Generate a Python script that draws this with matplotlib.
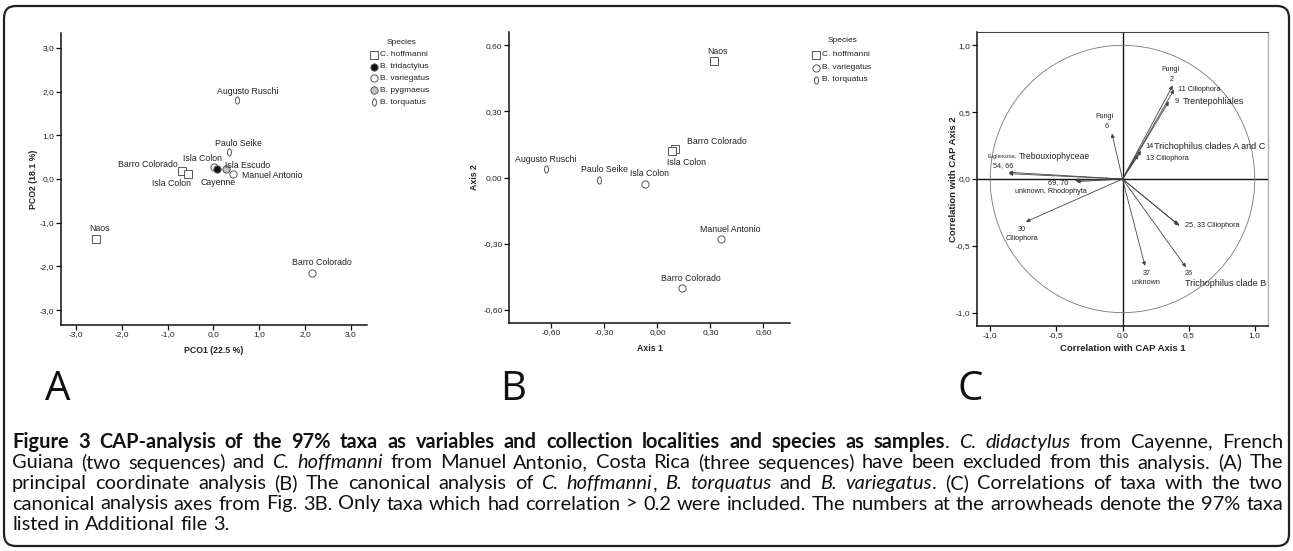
import matplotlib
matplotlib.use('Agg')
import matplotlib.pyplot as plt
from matplotlib.path import Path
import matplotlib.patches as mpatches
import matplotlib.ticker as mticker
import numpy as np

# ---------------- data ----------------
# Panel A: principal coordinate analysis
A_hoff_x = [-0.68, -0.56, -2.57]
A_hoff_y = [0.19, 0.11, -1.37]
A_trid_x = [0.08]
A_trid_y = [0.23]
A_var_x = [0.02, 0.42, 2.15]
A_var_y = [0.27, 0.12, -2.15]
A_pyg_x = [0.27]
A_pyg_y = [0.24]
A_torq_x = [0.52, 0.33]
A_torq_y = [1.81, 0.62]
A_labels = ["Augusto Ruschi", "Paulo Seike", "Isla Colon", "Isla Escudo", "Manuel Antonio",
            "Cayenne", "Barro Colorado", "Isla Colon", "Naos", "Barro Colorado"]
A_label_x = [0.74, 0.54, -0.24, 0.74, 1.28, 0.11, -1.43, -0.91, -2.48, 2.37]
A_label_y = [2.01, 0.82, 0.48, 0.32, 0.07, -0.07, 0.34, -0.11, -1.14, -1.92]
A_ticks = [-3.0, -2.0, -1.0, 0.0, 1.0, 2.0, 3.0]
A_xlabel = "PCO1 (22.5 %)"
A_ylabel = "PCO2 (18.1 %)"
A_legend = ["C. hoffmanni", "B. tridactylus", "B. variegatus", "B. pygmaeus", "B. torquatus"]

# Panel B: canonical analysis
B_hoff_x = [0.32, 0.10, 0.08]
B_hoff_y = [0.53, 0.13, 0.12]
B_var_x = [-0.07, 0.36, 0.14]
B_var_y = [-0.03, -0.28, -0.50]
B_torq_x = [-0.63, -0.33]
B_torq_y = [0.04, -0.01]
B_labels = ["Naos", "Barro Colorado", "Isla Colon", "Augusto Ruschi", "Paulo Seike",
            "Isla Colon", "Manuel Antonio", "Barro Colorado"]
B_label_x = [0.34, 0.165, 0.164, -0.63, -0.30, -0.045, 0.41, 0.19]
B_label_y = [0.57, 0.164, 0.068, 0.082, 0.036, 0.018, -0.236, -0.46]
B_label_ha = ["center", "left", "center", "center", "center", "center", "center", "center"]
B_ticks = [-0.60, -0.30, 0.00, 0.30, 0.60]
B_legend = ["C. hoffmanni", "B. variegatus", "B. torquatus"]

# Panel C: correlations of taxa with CAP axes (arrow tips)
C_taxa = ["2", "11", "9", "6", "14", "13", "54", "66", "69", "70", "30", "25", "33", "37", "26"]
C_x = [0.38, 0.39, 0.35, -0.08, 0.14, 0.12, -0.86, -0.86, -0.36, -0.35, -0.73, 0.43, 0.42, 0.17, 0.48]
C_y = [0.70, 0.67, 0.58, 0.34, 0.21, 0.18, 0.05, 0.04, -0.01, -0.02, -0.32, -0.35, -0.34, -0.65, -0.66]
C_ticks = [-1.0, -0.5, 0.0, 0.5, 1.0]
C_text = ["Fungi", "2", "11 Ciliophora", "9", "Trentepohliales", "Fungi", "6", "14",
          "Trichophilus clades A and C", "13 Ciliophora", "Euglenozoa,", "Trebouxiophyceae",
          "54, 66", "69, 70", "unknown, Rhodophyta", "30", "Ciliophora", "25, 33 Ciliophora",
          "37", "unknown", "26", "Trichophilus clade B"]
C_text_x = [0.36, 0.375, 0.417, 0.394, 0.455, -0.136, -0.12, 0.174, 0.24, 0.174, -1.02, -0.785,
            -0.90, -0.49, -0.545, -0.76, -0.76, 0.47, 0.18, 0.18, 0.47, 0.47]
C_text_y = [0.82, 0.745, 0.67, 0.58, 0.58, 0.466, 0.39, 0.243, 0.243, 0.15, 0.168, 0.168,
            0.10, -0.03, -0.095, -0.376, -0.444, -0.35, -0.707, -0.774, -0.707, -0.78]
C_text_size = [5.2, 5.2, 5.2, 5.2, 6.5, 5.2, 5.2, 5.2, 6.5, 5.2, 3.7, 6.2,
               5.2, 5.2, 5.2, 5.2, 5.2, 5.2, 5.2, 5.2, 5.2, 6.5]
C_text_ha = ["center", "center", "left", "left", "left", "center", "center", "left", "left", "left",
             "left", "left", "center", "center", "center", "center", "center", "left",
             "center", "center", "left", "left"]

# ---------------- styling ----------------
W, H = 1293, 551
FONT = "Liberation Sans"
plt.rcParams['font.family'] = [FONT, 'DejaVu Sans']
EC = '#555555'
TXT = '#222222'

circ = Path.unit_circle()
ELLIPSE = Path(circ.vertices * np.array([0.55, 1.0]), circ.codes)

fig = plt.figure(figsize=(W / 100, H / 100), dpi=100)


def px_axes(l, t, r, b):
    return fig.add_axes([l / W, 1 - b / H, (r - l) / W, (b - t) / H])


def fmt(nd):
    def f(v, p):
        if abs(v) < 1e-9:
            v = 0.0
        return f"{v:.{nd}f}".replace('.', ',')
    return mticker.FuncFormatter(f)


def style_axes(ax, ticks, nd):
    for s in ['top', 'right']:
        ax.spines[s].set_visible(False)
    for s in ['left', 'bottom']:
        ax.spines[s].set_linewidth(1.1)
        ax.spines[s].set_color('#111111')
    ax.set_xticks(ticks)
    ax.set_yticks(ticks)
    ax.xaxis.set_major_formatter(fmt(nd))
    ax.yaxis.set_major_formatter(fmt(nd))
    ax.tick_params(direction='out', length=3.5, width=0.9, pad=1.2, labelsize=6, colors='#111111',
                   labelcolor=TXT)


ms = 5.2
mk = dict(linestyle='none', markeredgecolor=EC, markeredgewidth=0.7, markersize=ms)

# ---------------- Panel A ----------------
axA = px_axes(60.7, 33, 367, 325)
axA.set_xlim(-3.33, 3.35)
axA.set_ylim(-3.34, 3.34)
style_axes(axA, A_ticks, 1)
axA.plot(A_hoff_x, A_hoff_y, marker='s', markerfacecolor='white', **mk)
axA.plot(A_var_x, A_var_y, marker='o', markerfacecolor='white', **mk)
axA.plot(A_trid_x, A_trid_y, marker='o', markerfacecolor='#111111', **mk)
axA.plot(A_pyg_x, A_pyg_y, marker='o', markerfacecolor='#c4c4c4', **mk)
axA.plot(A_torq_x, A_torq_y, marker=ELLIPSE, markerfacecolor='white', **mk)
for t, x, y in zip(A_labels, A_label_x, A_label_y):
    axA.text(x, y, t, fontsize=6.3, ha='center', va='center', color=TXT)
axA.text(0.5, -0.089, A_xlabel, transform=axA.transAxes, ha='center', va='center',
         fontsize=6.3, fontweight='bold', color=TXT)
axA.text(-0.09, 0.5, A_ylabel, transform=axA.transAxes, ha='center', va='center',
         rotation=90, fontsize=6.3, fontweight='bold', color=TXT)

# ---------------- Panel B ----------------
axB = px_axes(509, 32, 790, 323)
axB.set_xlim(-0.84, 0.75)
axB.set_ylim(-0.66, 0.66)
style_axes(axB, B_ticks, 2)
axB.plot(B_hoff_x, B_hoff_y, marker='s', markerfacecolor='white', **mk)
axB.plot(B_var_x, B_var_y, marker='o', markerfacecolor='white', **mk)
axB.plot(B_torq_x, B_torq_y, marker=ELLIPSE, markerfacecolor='white', **mk)
for t, x, y, ha in zip(B_labels, B_label_x, B_label_y, B_label_ha):
    axB.text(x, y, t, fontsize=6.3, ha=ha, va='center', color=TXT)
axB.text(0.5, -0.089, "Axis 1", transform=axB.transAxes, ha='center', va='center',
         fontsize=6.3, fontweight='bold', color=TXT)
axB.text(-0.121, 0.5, "Axis 2", transform=axB.transAxes, ha='center', va='center',
         rotation=90, fontsize=6.3, fontweight='bold', color=TXT)

# ---------------- Panel C ----------------
axC = px_axes(977, 32, 1268, 326)
axC.set_xlim(-1.1, 1.1)
axC.set_ylim(-1.1, 1.1)
style_axes(axC, C_ticks, 1)
axC.spines['top'].set_visible(True)
axC.spines['top'].set_color('#444444')
axC.spines['top'].set_linewidth(0.8)
axC.spines['right'].set_visible(True)
axC.spines['right'].set_color('#b0b0b0')
axC.spines['right'].set_linewidth(1.0)
axC.axhline(0, color='#111111', lw=1.0, zorder=1)
axC.axvline(0, color='#111111', lw=1.0, zorder=1)
th = np.linspace(0, 2 * np.pi, 400)
axC.plot(np.cos(th), np.sin(th), color='#777777', lw=0.6, zorder=1)
for x, y in zip(C_x, C_y):
    axC.annotate("", xy=(x, y), xytext=(0, 0),
                 arrowprops=dict(arrowstyle='-|>', lw=0.6, color='#444444',
                                 mutation_scale=5.5, shrinkA=0, shrinkB=0), zorder=2)
for t, x, y, sz, ha in zip(C_text, C_text_x, C_text_y, C_text_size, C_text_ha):
    axC.text(x, y, t, fontsize=sz, ha=ha, va='center', color=TXT, zorder=3)
axC.text(0.5, -0.078, "Correlation with CAP Axis 1", transform=axC.transAxes, ha='center',
         va='center', fontsize=6.8, fontweight='bold', color=TXT)
axC.text(-0.082, 0.5, "Correlation with CAP Axis 2", transform=axC.transAxes, ha='center',
         va='center', rotation=90, fontsize=6.8, fontweight='bold', color=TXT)

# ---------------- overlay (legends, letters, caption, frame) ----------------
ov = fig.add_axes([0, 0, 1, 1], zorder=10)
ov.set_xlim(0, W)
ov.set_ylim(H, 0)
ov.axis('off')
ov.patch.set_alpha(0)

leg_styles_A = [('s', 'white'), ('o', '#111111'), ('o', 'white'), ('o', '#c4c4c4'), (ELLIPSE, 'white')]
ov.text(402, 42, "Species", fontsize=6, ha='center', va='center', color=TXT)
for (m, fc), name, yy in zip(leg_styles_A, A_legend, [55, 67, 78, 90, 102]):
    ov.plot([374], [yy], marker=m, markerfacecolor=fc, **mk)
    ov.text(379.5, yy, name, fontsize=6, ha='left', va='center', color=TXT)

leg_styles_B = [('s', 'white'), ('o', 'white'), (ELLIPSE, 'white')]
ov.text(843, 41, "Species", fontsize=6, ha='center', va='center', color=TXT)
for (m, fc), name, yy in zip(leg_styles_B, B_legend, [54.5, 67.5, 79.5]):
    ov.plot([816], [yy], marker=m, markerfacecolor=fc, **mk)
    ov.text(821.5, yy, name, fontsize=6, ha='left', va='center', color=TXT)

LETF = ['Open Sans', 'DejaVu Sans']
for letter, xx in zip("ABC", [58, 513, 970]):
    ov.text(xx, 400, letter, fontsize=29, family=LETF, ha='center', va='baseline',
            color='#111111')

# caption
CAPF = ['Lato', 'DejaVu Sans']
caption_lines = [
    [[("Figure", 'b')], [("3", 'b')], [("CAP-analysis", 'b')], [("of", 'b')], [("the", 'b')],
     [("97%", 'b')], [("taxa", 'b')], [("as", 'b')], [("variables", 'b')], [("and", 'b')],
     [("collection", 'b')], [("localities", 'b')], [("and", 'b')], [("species", 'b')],
     [("as", 'b')], [("samples", 'b'), (".", 'n')], [("C.", 'i')], [("didactylus", 'i')],
     [("from", 'n')], [("Cayenne,", 'n')], [("French", 'n')]],
    [[(w, 'n')] for w in "Guiana (two sequences) and".split()] + [[("C.", 'i')], [("hoffmanni", 'i')]] +
    [[(w, 'n')] for w in "from Manuel Antonio, Costa Rica (three sequences) have been excluded from this analysis. (A) The".split()],
    [[(w, 'n')] for w in "principal coordinate analysis (B) The canonical analysis of".split()] +
    [[("C.", 'i')], [("hoffmanni", 'i'), (",", 'n')], [("B.", 'i')], [("torquatus", 'i')], [("and", 'n')],
     [("B.", 'i')], [("variegatus", 'i'), (".", 'n')]] +
    [[(w, 'n')] for w in "(C) Correlations of taxa with the two".split()],
    [[(w, 'n')] for w in "canonical analysis axes from Fig. 3B. Only taxa which had correlation > 0.2 were included. The numbers at the arrowheads denote the 97% taxa".split()],
    [[(w, 'n')] for w in "listed in Additional file 3.".split()],
]
caption_base = [448, 468.5, 489, 509.5, 530]
X0, X1 = 12, 1283

renderer = fig.canvas.get_renderer()


def kw(st, size):
    d = dict(fontsize=size, family=CAPF, color='#111111')
    if st == 'b':
        d['fontweight'] = 'bold'
    if st == 'i':
        d['fontstyle'] = 'italic'
    return d


def measure(s, st, size):
    t = ov.text(0, 0, s, **kw(st, size))
    w = t.get_window_extent(renderer).width
    t.remove()
    return w


# calibrate the caption font size so line 4 fills the text width with ordinary spaces
ref = 12.0
sp = measure("a a", 'n', ref) - measure("aa", 'n', ref)
w4 = sum(measure(p[0], p[1], ref) for word in caption_lines[3] for p in word) + \
     sp * (len(caption_lines[3]) - 1)
CAP_SIZE = ref * (X1 - X0 - 20) / w4
space_w = measure("a a", 'n', CAP_SIZE) - measure("aa", 'n', CAP_SIZE)

for li, (words, yb) in enumerate(zip(caption_lines, caption_base)):
    size = CAP_SIZE
    widths = [[measure(p[0], p[1], size) for p in word] for word in words]
    total = sum(sum(w) for w in widths)
    justify = li < 4
    if justify:
        gap = (X1 - X0 - total) / (len(words) - 1)
        if gap < space_w * 0.8:
            f = (X1 - X0 - space_w * 0.8 * (len(words) - 1)) / total
            size = size * f
            widths = [[measure(p[0], p[1], size) for p in word] for word in words]
            total = sum(sum(w) for w in widths)
            gap = (X1 - X0 - total) / (len(words) - 1)
    else:
        gap = space_w
    x = X0
    for word, ws in zip(words, widths):
        for (s, st), w in zip(word, ws):
            ov.text(x, yb, s, ha='left', va='baseline', **kw(st, size))
            x += w
        x += gap

# rounded frame
frame = mpatches.FancyBboxPatch((14, 16), W - 28, H - 31,
                                boxstyle="round,pad=10,rounding_size=12",
                                fill=False, ec='#222222', lw=1.6)
ov.add_patch(frame)

fig.savefig("out.png", dpi=100)
